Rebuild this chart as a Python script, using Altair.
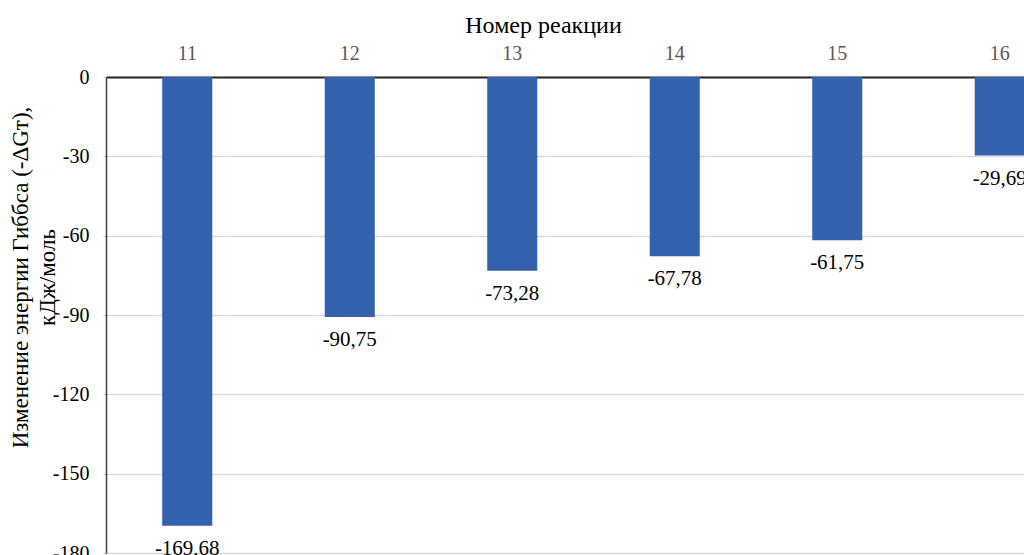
import altair as alt
import pandas as pd

reactions = ["11", "12", "13", "14", "15", "16"]
values = [-169.68, -90.75, -73.28, -67.78, -61.75, -29.69]
y_ticks = [0, -30, -60, -90, -120, -150, -180]

df = pd.DataFrame({"reaction": reactions, "value": values})
df["label"] = [f"{v:.2f}".replace(".", ",") for v in values]

FONT = "Liberation Serif"
PLOT_W = 975
PLOT_H = 476

x = alt.X(
    "reaction:O",
    sort=reactions,
    scale=alt.Scale(range=[0, PLOT_W], paddingInner=0.692, paddingOuter=0.346),
    axis=alt.Axis(
        orient="top",
        title="Номер реакции",
        titleFont=FONT,
        titleFontSize=24,
        titleFontWeight="normal",
        titleColor="#000000",
        titleX=437,
        titleY=-45,
        titleAlign="center",
        titleBaseline="alphabetic",
        labelFont=FONT,
        labelFontSize=20,
        labelColor="#595959",
        labelAngle=0,
        labelBaseline="alphabetic",
        labelPadding=18,
        ticks=False,
        tickSize=0,
        domain=True,
        domainColor="#262626",
        domainWidth=2,
        grid=False,
    ),
)

y = alt.Y(
    "value:Q",
    scale=alt.Scale(domain=[-180, 0], range=[PLOT_H, 0], nice=False, zero=True),
    axis=alt.Axis(
        values=y_ticks,
        title=["Изменение энергии Гиббса (-ΔGт),", "кДж/моль"],
        titleFont=FONT,
        titleFontSize=23,
        titleFontWeight="normal",
        titleColor="#000000",
        titleAngle=270,
        titleX=-86,
        titleY=200,
        titleAlign="center",
        titleBaseline="middle",
        titleLineHeight=27,
        labelFont=FONT,
        labelFontSize=20,
        labelColor="#000000",
        labelPadding=14,
        labelExpr="datum.value == 0 ? '0' : '-' + format(abs(datum.value), 'd')",
        ticks=True,
        tickSize=3,
        tickColor="#bfbfbf",
        domain=True,
        domainColor="#404040",
        domainWidth=1.5,
        grid=True,
        gridColor="#d9d9d9",
        gridWidth=1.5,
    ),
)

base = alt.Chart(df)

bars = base.mark_bar(color="#3461AE").encode(x=x, y=y)

labels = base.mark_text(
    baseline="top", align="center", dy=12, font=FONT, fontSize=21, color="#000000"
).encode(x=alt.X("reaction:O", sort=reactions), y=alt.Y("value:Q"), text="label:N")

chart = (
    alt.layer(bars, labels)
    .properties(
        width=918,
        height=478,
        autosize=alt.AutoSizeParams(type="none"),
        padding={"left": 106, "top": 77, "right": 0, "bottom": 0},
    )
    .configure_view(stroke=None)
    .configure(background="white")
)

chart.save("out.html", embed_options={"renderer": "svg", "actions": False})
